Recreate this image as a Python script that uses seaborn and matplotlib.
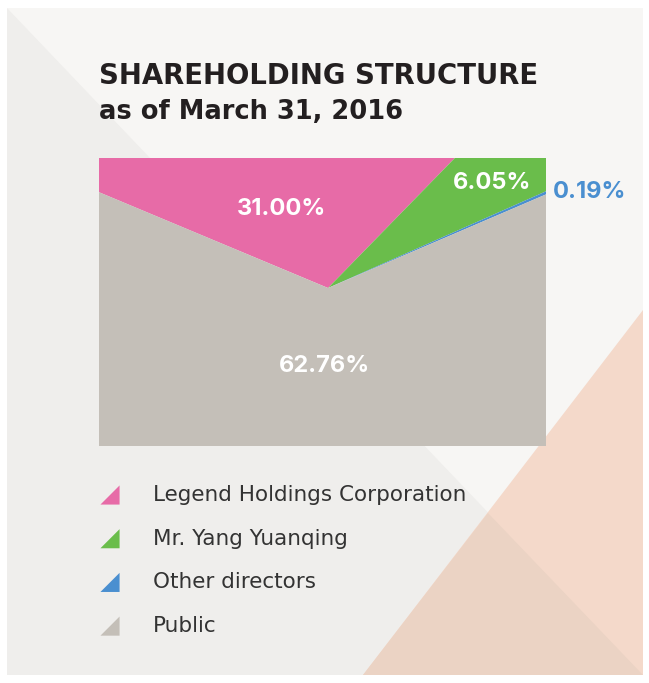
import seaborn as sns
import matplotlib.pyplot as plt
from matplotlib.patches import Polygon
import pandas as pd

# data
holders = ['Legend Holdings Corporation', 'Mr. Yang Yuanqing', 'Other directors', 'Public']
shares = [31.00, 6.05, 0.19, 62.76]
share_labels = ['31.00%', '6.05%', '0.19%', '62.76%']
colors = ['#e76ba7', '#6abd4b', '#4a8fd0', '#c4bfb8']

sns.set_theme(style="white")
plt.rcParams['font.family'] = ['DejaVu Sans']

W, H = 649, 683
fig = plt.figure(figsize=(W / 100, H / 100), dpi=100, facecolor='white')

# background panel (pixel coords, y down)
bg = fig.add_axes([0, 0, 1, 1])
bg.add_patch(Polygon([(7, 8), (643, 8), (643, 675), (7, 675)], color='#f7f6f4', lw=0))
bg.add_patch(Polygon([(7, 8), (643, 675), (7, 675)], color='#efeeec', lw=0))
bg.add_patch(Polygon([(363, 675), (643, 675), (643, 310)], color='#f4d9ca', lw=0))
bg.add_patch(Polygon([(363, 675), (643, 675), (488, 513)], color='#ebd3c4', lw=0))

# title
bg.text(99, 84, 'SHAREHOLDING STRUCTURE', fontsize=19.8, fontweight='bold', color='#231f20', va='baseline')
bg.text(99, 119, 'as of March 31, 2016', fontsize=18.5, fontweight='bold', color='#231f20', va='baseline')

# pie clipped to a rectangle
ax = fig.add_axes([99 / W, 1 - 446 / H, 447 / W, 288 / H])
wedges, _ = ax.pie(shares, colors=colors, center=(328, H - 288), radius=1000, counterclock=False,
                   startangle=157.3, wedgeprops=dict(linewidth=0), frame=True)
for w in wedges:
    w.set_clip_on(True)
ax.set_xlim(99, 546)
ax.set_ylim(H - 446, H - 158)
ax.set_aspect('auto')
ax.axis('off')

# value labels
pos = [(282, 209), (492, 183), (590, 192), (324, 366)]
lab_colors = ['white', 'white', '#4a8fd0', 'white']
for (x, y), t, c in zip(pos, share_labels, lab_colors):
    fig.text(x / W, 1 - y / H, t, fontsize=17, fontweight='bold', color=c, ha='center', va='center',
             family='Inter', zorder=5)

# legend
tri = [(-1, -1), (1, -1), (1, 1), (-1, -1)]
leg = pd.DataFrame({'holder': holders, 'x': [110] * 4, 'y': [495 + i * 43.7 for i in range(4)]})
sns.scatterplot(data=leg, x='x', y='y', hue='holder', palette=colors, marker=tri, s=190,
                linewidth=0, legend=False, ax=bg)
bg.set_xlim(0, W)
bg.set_ylim(H, 0)
bg.axis('off')
for name, y in zip(leg['holder'], leg['y']):
    bg.text(153, y, name, fontsize=15.5, color='#333333', va='center')

fig.savefig('out.png', dpi=100, facecolor='white')
